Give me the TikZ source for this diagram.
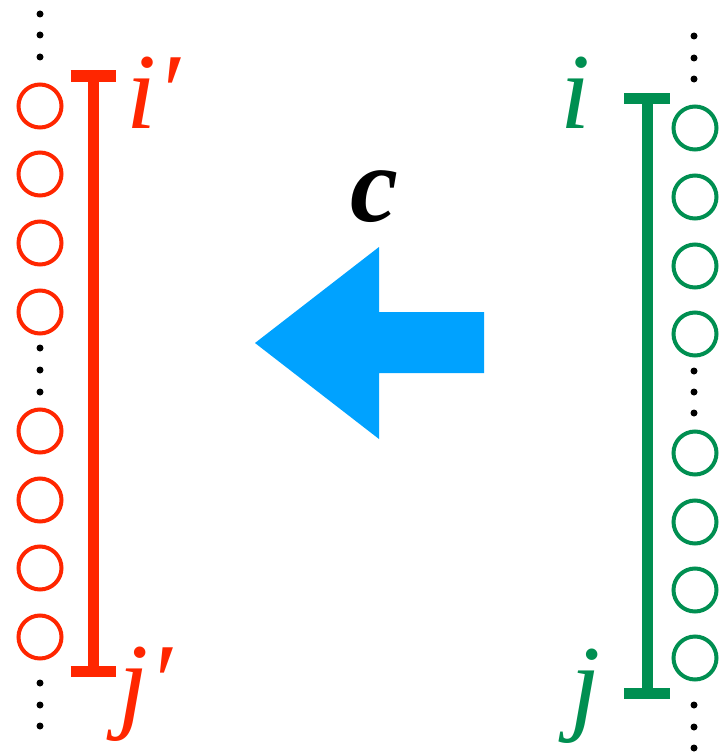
\documentclass[tikz,border=0pt]{standalone}
\usepackage{fontspec}
\setmainfont{Liberation Serif}
\definecolor{cred}{HTML}{FF2600}
\definecolor{cgreen}{HTML}{008F51}
\definecolor{cblue}{HTML}{00A2FF}
\begin{document}
\begin{tikzpicture}[x=1pt,y=-1pt,
  rc/.style={circle,draw=cred,line width=4pt,minimum size=43pt,inner sep=0pt},
  gc/.style={circle,draw=cgreen,line width=4pt,minimum size=43pt,inner sep=0pt},
  dotn/.style={circle,fill=black,minimum size=7pt,inner sep=0pt},
  barline/.style={line width=11pt},
  lab/.style={inner sep=0pt,font=\fontsize{108}{108}\selectfont\itshape}]
\useasboundingbox (0,0) rectangle (723,752);
% left column
\foreach \y [count=\k] in {106,174,243,312,431,500,568,637}
  \node[rc] (L\k) at (40,\y) {};
\foreach \y [count=\k] in {14,35,57,348,370,392,683,705,726}
  \node[dotn] (LD\k) at (40,\y) {};
% right column
\foreach \y [count=\k] in {128,197,266,334,453,522,590,658}
  \node[gc] (R\k) at (695,\y) {};
\foreach \y [count=\k] in {36,58,79,371,392,413,705,727,748}
  \node[dotn] (RD\k) at (694,\y) {};
% red bar
\coordinate (Ltop) at (93,76);
\coordinate (Lbot) at (93,671.5);
\draw[barline,cred] (Ltop) -- (Lbot);
\draw[barline,cred] ([xshift=-22.5pt]Ltop) -- ([xshift=22.5pt]Ltop);
\draw[barline,cred] ([xshift=-22.5pt]Lbot) -- ([xshift=22.5pt]Lbot);
% green bar
\coordinate (Rtop) at (647,98);
\coordinate (Rbot) at (647,693.5);
\draw[barline,cgreen] (Rtop) -- (Rbot);
\draw[barline,cgreen] ([xshift=-23pt]Rtop) -- ([xshift=23pt]Rtop);
\draw[barline,cgreen] ([xshift=-23pt]Rbot) -- ([xshift=23pt]Rbot);
% labels
\node[lab,text=cred,anchor=base west] (ip) at (126,128) {i′};
\node[lab,text=cred,anchor=base west] (jp) at (118,718) {j′};
\node[lab,text=cgreen,anchor=base west] (i) at (560,128) {i};
\node[lab,text=cgreen,anchor=base west] (j) at (570,720) {j};
\node[lab,anchor=base west,font=\fontsize{108}{108}\selectfont\bfseries\itshape] (c) at (350,221) {c};
% arrow
\fill[cblue] (255,343) -- (379,247) -- (379,312) -- (484,312) -- (484,373) -- (379,373) -- (379,439) -- cycle;
\end{tikzpicture}
\end{document}
